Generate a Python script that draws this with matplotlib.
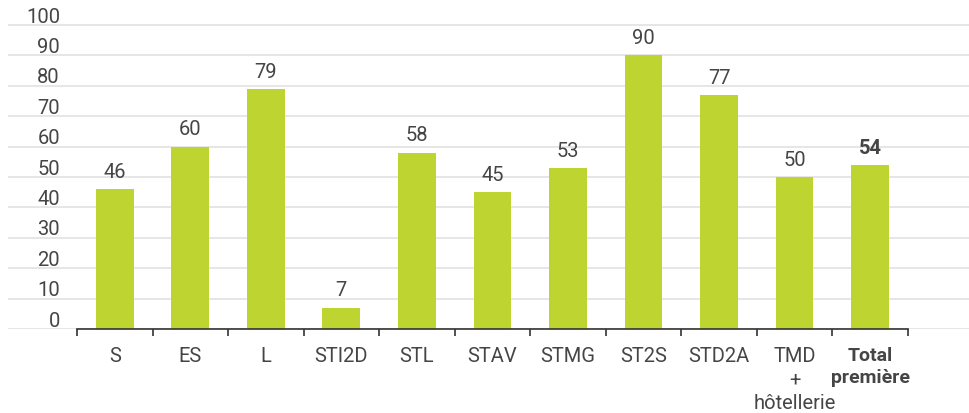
import numpy as np
import matplotlib
matplotlib.use("Agg")
import matplotlib.pyplot as plt
import matplotlib.transforms as mtransforms

plt.rcParams['font.family'] = ['Roboto', 'DejaVu Sans']

# Data
categories = ["S", "ES", "L", "STI2D", "STL", "STAV", "STMG", "ST2S", "STD2A",
              "TMD\n+\nhôtellerie", "Total\npremière"]
values = [46, 60, 79, 7, 58, 45, 53, 90, 77, 50, 54]
y_ticks = [0, 10, 20, 30, 40, 50, 60, 70, 80, 90, 100]

BAR_COLOR = "#bed531"
TEXT_COLOR = "#454545"
GRID_COLOR = "#e4e4e4"
FS = 14.5

fig = plt.figure(figsize=(9.69, 4.14), dpi=100)
# axes spans from x=8px to the right edge, y=0 line at 330px
ax = fig.add_axes([8 / 969, (414 - 330) / 414, 961 / 969, 330 / 414])

x = np.arange(len(categories))
ax.bar(x, values, width=0.5, color=BAR_COLOR, zorder=2)

ax.set_xlim(-1.414, 11.31)
ax.set_ylim(0, 108.55)

# horizontal grid lines across the whole width
for yv in y_ticks:
    ax.axhline(yv, color=GRID_COLOR, linewidth=1.3, zorder=1)

# y labels sitting just above each grid line
trans = mtransforms.blended_transform_factory(ax.transAxes, ax.transData)
for yv in y_ticks:
    ax.text((60 - 8) / 961, yv + 1.1, str(yv), transform=trans,
            ha='right', va='baseline', fontsize=FS, color=TEXT_COLOR)

# value labels
for i, v in enumerate(values):
    bold = (i == len(values) - 1)
    ax.annotate(str(v), (x[i], v), xytext=(0, 6), textcoords='offset points',
                ha='center', va='bottom', fontsize=FS, color=TEXT_COLOR,
                fontweight='bold' if bold else 'normal')

# axis styling
for s in ['top', 'right', 'left']:
    ax.spines[s].set_visible(False)
ax.spines['bottom'].set_bounds(-0.5, len(categories) - 0.5)
ax.spines['bottom'].set_color('#333333')
ax.spines['bottom'].set_linewidth(1.2)
ax.spines['bottom'].set_zorder(3)
ax.set_yticks([])

ax.set_xticks(x)
ax.set_xticklabels(categories, fontsize=FS, color=TEXT_COLOR, linespacing=1.3)
ax.tick_params(axis='x', which='major', length=0, pad=12)
ax.set_xticks(np.arange(len(categories) + 1) - 0.5, minor=True)
ax.tick_params(axis='x', which='minor', length=5, width=1.2, color='#333333')
lbl = ax.get_xticklabels()[-1]
lbl.set_fontweight('bold')
lbl.set_fontsize(14)

fig.savefig("out.png", dpi=100)
